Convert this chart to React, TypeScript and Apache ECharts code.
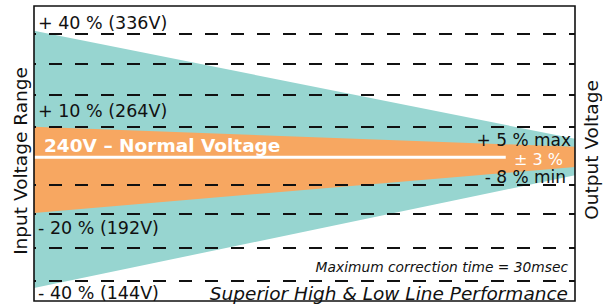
import React, { useEffect, useRef } from "react";
import * as echarts from "echarts";

// x: 0 = input side (left), 100 = output side (right); y: % deviation from 240V
const bandX = [0, 100];
const inputUpper = [41, 6];
const inputLower = [-42.3, -5.8];
const outputUpper = [9.9, 3.4];
const outputLower = [-18, -3.1];
const nominalX = [0, 87.2];
const nominalY = [0, 0];
const dashLevels = [40, 30.4, 20.4, 9.9, -8.9, -18.3, -29.3, -40];

const TEAL = "#97d5d0";
const ORANGE = "#f7a761";
const FONT = "DejaVu Sans";

function bandSeries(upper: number[], lower: number[], color: string, z: number) {
  return {
    type: "custom",
    z,
    silent: true,
    data: [[0]],
    renderItem: (_p: any, api: any) => {
      const pts: number[][] = [];
      bandX.forEach((x, i) => pts.push(api.coord([x, upper[i]])));
      for (let i = bandX.length - 1; i >= 0; i--) pts.push(api.coord([bandX[i], lower[i]]));
      return { type: "polygon", shape: { points: pts }, style: { fill: color } };
    },
  };
}

export default function App() {
  const ref = useRef<HTMLDivElement>(null);
  useEffect(() => {
    if (!ref.current) return;
    const chart = echarts.init(ref.current, null, { renderer: "svg" });
    const txt = (text: string, x: number, y: number, extra: any = {}) => ({
      type: "text",
      x,
      y,
      z: 100,
      style: {
        text,
        fill: "#111",
        font: `17.5px "${FONT}"`,
        textAlign: "left",
        textVerticalAlign: "middle",
        ...extra,
      },
    });
    chart.setOption({
      animation: false,
      grid: { left: 34, top: 6, right: 28, bottom: 3 },
      xAxis: { type: "value", min: 0, max: 100, show: false },
      yAxis: { type: "value", min: -46.5, max: 49, show: false },
      series: [
        bandSeries(inputUpper, inputLower, TEAL, 1),
        bandSeries(outputUpper, outputLower, ORANGE, 2),
        {
          type: "line",
          z: 3,
          silent: true,
          symbol: "none",
          data: [],
          markLine: {
            silent: true,
            symbol: "none",
            label: { show: false },
            lineStyle: { color: "#111", width: 2, type: [13, 13], dashOffset: 11 },
            data: dashLevels.map((v) => ({ yAxis: v })),
          },
        },
        {
          type: "line",
          z: 4,
          silent: true,
          symbol: "none",
          lineStyle: { color: "#ffffff", width: 3 },
          data: nominalX.map((x, i) => [x, nominalY[i]]),
        },
      ],
      graphic: [
        {
          type: "rect",
          z: 99,
          shape: { x: 34, y: 6, width: 541, height: 295 },
          style: { fill: "none", stroke: "#111", lineWidth: 1.6 },
        },
        txt("+ 40 % (336V)", 38, 23),
        txt("+ 10 % (264V)", 38, 111),
        txt("- 20 % (192V)", 38, 228),
        txt("- 40 % (144V)", 38, 293),
        txt("240V \u2013 Normal Voltage", 44, 145, { fill: "#fff", font: `bold 18.5px "${FONT}"` }),
        txt("+ 5 % max", 571, 140, { textAlign: "right", font: `17px "${FONT}"` }),
        txt("\u00b1 3 %", 514, 159, { fill: "#fff", font: `16px "${FONT}"` }),
        txt("- 8 % min", 566, 177, { textAlign: "right", font: `17px "${FONT}"` }),
        txt("Maximum correction time = 30msec", 568, 267, {
          textAlign: "right",
          font: `italic 13.8px "${FONT}"`,
        }),
        txt("Superior High & Low Line Performance", 568, 293, {
          textAlign: "right",
          font: `italic 18.5px "${FONT}"`,
        }),
        {
          type: "text",
          x: 20,
          y: 161,
          rotation: Math.PI / 2,
          z: 100,
          style: {
            text: "Input Voltage Range",
            fill: "#111",
            font: `18.5px "${FONT}"`,
            textAlign: "center",
            textVerticalAlign: "middle",
          },
        },
        {
          type: "text",
          x: 591,
          y: 150,
          rotation: Math.PI / 2,
          z: 100,
          style: {
            text: "Output Voltage",
            fill: "#111",
            font: `18.5px "${FONT}"`,
            textAlign: "center",
            textVerticalAlign: "middle",
          },
        },
      ],
    });
    return () => chart.dispose();
  }, []);
  return (
    <div
      ref={ref}
      style={{ position: "fixed", left: 0, top: 0, width: 603, height: 304, background: "#fff" }}
    />
  );
}
